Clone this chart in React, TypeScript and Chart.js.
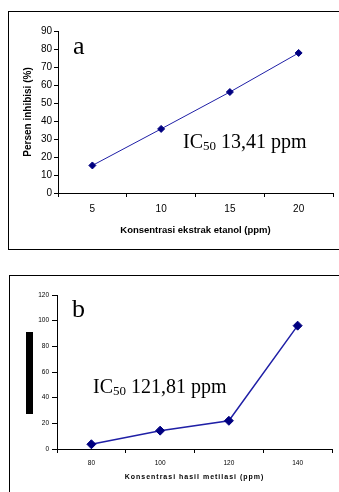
import React, { useEffect, useRef } from 'react';
import { Chart, registerables } from 'chart.js';
Chart.register(...registerables);

// ---- data ----
const concentrationsA = ['5', '10', '15', '20'];
const inhibitionA = [15.3, 35.6, 56.1, 77.8];
const concentrationsB = ['80', '100', '120', '140'];
const inhibitionB = [3.7, 14.3, 22.0, 96.1];
const yRangeA = [0, 90, 10];
const yRangeB = [0, 120, 20];
const panelLabels = ['a', 'b'];
const ic50Values = ['13,41 ppm', '121,81 ppm'];
const xTitles = ['Konsentrasi ekstrak etanol (ppm)', 'Konsentrasi hasil metilasi (ppm)'];
const yTitleA = 'Persen inhibisi (%)';

const SANS = '"Liberation Sans", Arial, sans-serif';
const SERIF = '"Liberation Serif", "Times New Roman", serif';

function annotationPlugin(o: any) {
  return {
    id: 'annot',
    afterDraw(chart: any) {
      const { ctx, chartArea: ca } = chart;
      ctx.save();
      ctx.fillStyle = '#000';
      ctx.textBaseline = 'alphabetic';
      ctx.textAlign = 'left';
      ctx.font = `26px ${SERIF}`;
      ctx.fillText(o.letter, ca.left + o.letterDx, ca.top + o.letterDy);
      let x = ca.left + o.icDx;
      const y = ca.top + o.icDy;
      ctx.font = `20px ${SERIF}`;
      ctx.fillText('IC', x, y);
      x += ctx.measureText('IC').width;
      ctx.font = `13px ${SERIF}`;
      ctx.fillText('50', x, y + 2);
      x += ctx.measureText('50').width;
      ctx.font = `20px ${SERIF}`;
      ctx.fillText(' ' + o.ic, x, y);
      if (o.redact) {
        ctx.fillRect(ca.left - 31, ca.top + 37, 7, 82);
      }
      if (o.xTitle) {
        ctx.font = `bold 7px ${SANS}`;
        try { (ctx as any).letterSpacing = '1px'; } catch (e) {}
        ctx.textAlign = 'center';
        ctx.textBaseline = 'middle';
        ctx.fillText(o.xTitle, (ca.left + ca.right) / 2, ca.bottom + 28);
        try { (ctx as any).letterSpacing = '0px'; } catch (e) {}
      }
      ctx.restore();
    },
  };
}

function makeConfig(p: any): any {
  return {
    type: 'line',
    data: {
      labels: p.labels,
      datasets: [
        {
          data: p.values,
          borderColor: '#1f1fa6',
          borderWidth: p.lineWidth,
          backgroundColor: '#000080',
          pointBackgroundColor: '#000080',
          pointBorderColor: '#000080',
          pointBorderWidth: 1,
          pointStyle: 'rectRot',
          pointRadius: p.pointRadius,
          tension: 0,
          clip: false,
        },
      ],
    },
    options: {
      responsive: false,
      animation: false,
      events: [],
      layout: { padding: p.padding },
      plugins: { legend: { display: false }, tooltip: { enabled: false }, title: { display: false } },
      scales: {
        x: {
          type: 'category',
          offset: true,
          afterFit: (s: any) => { s.height = p.xHeight; },
          grid: { offset: true, drawOnChartArea: false, drawTicks: true, tickLength: 4, color: '#000' },
          border: { display: true, color: '#000', width: 1 },
          ticks: { color: '#000', font: { family: SANS, size: p.tickSize }, padding: p.xTickPad, maxRotation: 0, autoSkip: false },
          title: p.xTitle
            ? { display: true, text: p.xTitle, color: '#000', font: { family: SANS, size: p.xTitleSize, weight: 'bold' }, padding: { top: 0, bottom: p.xTitlePad } }
            : { display: false },
        },
        y: {
          min: p.yRange[0],
          max: p.yRange[1],
          afterFit: (s: any) => { s.width = p.yWidth; },
          grid: { drawOnChartArea: false, drawTicks: true, tickLength: p.yTickLen, color: '#000' },
          border: { display: true, color: '#000', width: 1 },
          ticks: { stepSize: p.yRange[2], color: '#000', font: { family: SANS, size: p.yTickSize }, padding: p.yTickPad },
          title: p.yTitle
            ? { display: true, text: p.yTitle, color: '#000', font: { family: SANS, size: 10, weight: 'bold' }, padding: { top: 22, bottom: 0 } }
            : { display: false },
        },
      },
    },
    plugins: [annotationPlugin(p.annot)],
  };
}

export default function App() {
  const refA = useRef<HTMLCanvasElement>(null);
  const refB = useRef<HTMLCanvasElement>(null);

  useEffect(() => {
    const a = new Chart(
      refA.current!,
      makeConfig({
        labels: concentrationsA,
        values: inhibitionA,
        lineWidth: 1,
        pointRadius: 3.5,
        padding: { left: 0, right: 6, top: 31, bottom: 0 },
        xHeight: 57,
        tickSize: 10,
        xTickPad: 6,
        xTitle: xTitles[0],
        xTitleSize: 9.5,
        xTitlePad: 14,
        yRange: yRangeA,
        yWidth: 58,
        yTickLen: 4,
        yTickSize: 10,
        yTickPad: 2,
        yTitle: yTitleA,
        annot: { letter: panelLabels[0], letterDx: 15, letterDy: 23, ic: ic50Values[0], icDx: 125, icDy: 117 },
      })
    );
    const b = new Chart(
      refB.current!,
      makeConfig({
        labels: concentrationsB,
        values: inhibitionB,
        lineWidth: 1.5,
        pointRadius: 4.5,
        padding: { left: 0, right: 7, top: 40, bottom: 0 },
        xHeight: 43,
        tickSize: 6.5,
        xTickPad: 6,
        xTitle: null,
        yRange: yRangeB,
        yWidth: 57,
        yTickLen: 5,
        yTickSize: 6.5,
        yTickPad: 3,
        yTitle: null,
        annot: { letter: panelLabels[1], letterDx: 15, letterDy: 22, ic: ic50Values[1], icDx: 36, icDy: 98, redact: true, xTitle: xTitles[1] },
      })
    );
    return () => {
      a.destroy();
      b.destroy();
    };
  }, []);

  return (
    <div style={{ position: 'absolute', left: 0, top: 0, width: 339, height: 492, overflow: 'hidden', background: '#fff' }}>
      <div style={{ position: 'absolute', left: 8, top: 11, width: 345, height: 237, borderLeft: '1px solid #000', borderTop: '1px solid #000', borderBottom: '1px solid #000' }} />
      <div style={{ position: 'absolute', left: 9, top: 275, width: 345, height: 300, borderLeft: '1px solid #000', borderTop: '1px solid #000' }} />
      <canvas ref={refA} width={339} height={250} style={{ position: 'absolute', left: 0, top: 0 }} />
      <canvas ref={refB} width={339} height={237} style={{ position: 'absolute', left: 0, top: 255 }} />
    </div>
  );
}
